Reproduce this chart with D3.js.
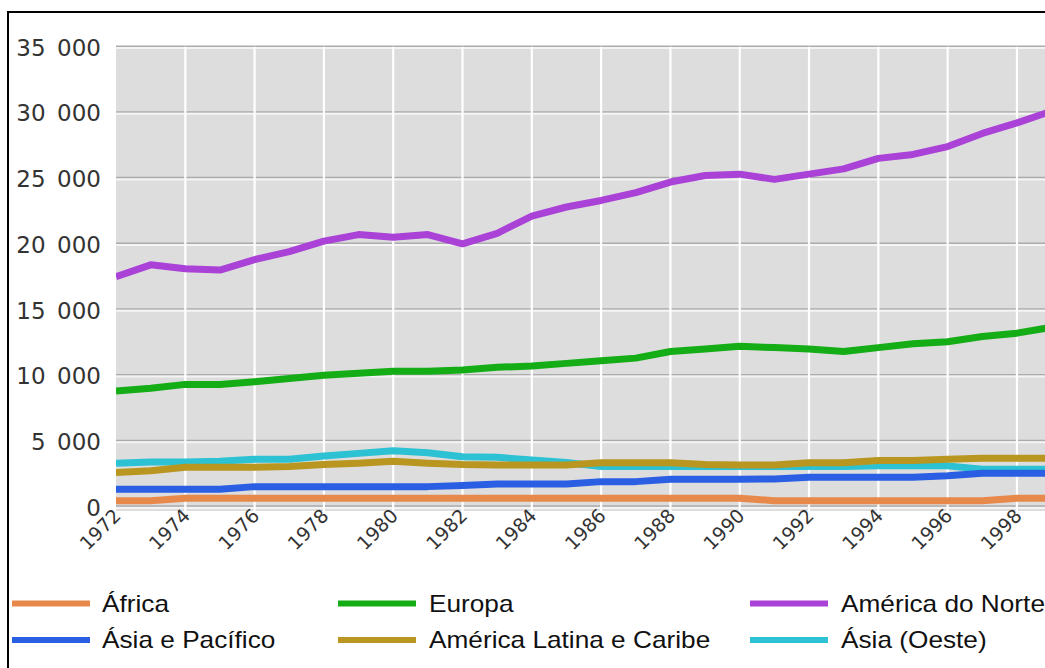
<!DOCTYPE html>
<html>
<head>
<meta charset="utf-8">
<script src="https://cdn.jsdelivr.net/npm/d3@7"></script>
<style>
  body { margin: 0; background: #fff; overflow: hidden; }
  svg { display: block; }
</style>
</head>
<body>
<svg id="chart" width="1045" height="668"></svg>
<script>
// Data, one value per year 1972-1999
const years = d3.range(1972, 2000);
const africa = [450, 450, 630, 630, 630, 630, 630, 630, 630, 630, 630, 630, 630, 630, 630, 630, 630, 630, 630, 450, 450, 450, 450, 450, 450, 450, 630, 630];
const europa = [8800, 9000, 9300, 9300, 9500, 9750, 10000, 10150, 10300, 10300, 10400, 10600, 10700, 10900, 11100, 11300, 11800, 12000, 12200, 12100, 12000, 11800, 12100, 12400, 12550, 12950, 13200, 13650];
const americaNorte = [17500, 18400, 18100, 18000, 18800, 19400, 20200, 20700, 20500, 20700, 20000, 20800, 22100, 22800, 23300, 23900, 24700, 25200, 25300, 24900, 25300, 25700, 26500, 26800, 27400, 28400, 29200, 30100];
const asiaPacifico = [1320, 1320, 1320, 1320, 1520, 1520, 1520, 1520, 1520, 1520, 1600, 1720, 1720, 1720, 1900, 1900, 2080, 2080, 2080, 2100, 2230, 2230, 2230, 2230, 2350, 2530, 2530, 2530];
const americaLatina = [2600, 2730, 3000, 3000, 3000, 3050, 3200, 3300, 3450, 3300, 3200, 3170, 3170, 3170, 3340, 3340, 3340, 3200, 3170, 3170, 3340, 3340, 3500, 3500, 3600, 3680, 3680, 3680];
const asiaOeste = [3300, 3400, 3400, 3450, 3600, 3600, 3850, 4050, 4250, 4100, 3800, 3750, 3550, 3350, 3050, 3050, 3050, 3050, 3050, 3050, 3050, 3050, 3100, 3100, 3100, 2850, 2850, 2850];

const yTicks = [0, 5000, 10000, 15000, 20000, 25000, 30000, 35000];
const xTicks = d3.range(1972, 1999, 2);

// drawing order (first = bottom)
const series = [
  { name: 'Ásia (Oeste)', values: asiaOeste, color: '#2cc2d3' },
  { name: 'África', values: africa, color: '#e8894c' },
  { name: 'Ásia e Pacífico', values: asiaPacifico, color: '#2b5fe3' },
  { name: 'América Latina e Caribe', values: americaLatina, color: '#b8961f' },
  { name: 'Europa', values: europa, color: '#14ad16' },
  { name: 'América do Norte', values: americaNorte, color: '#aa42d8' }
];

// legend layout: row by row
const legendOrder = [
  ['África', 'Europa', 'América do Norte'],
  ['Ásia e Pacífico', 'América Latina e Caribe', 'Ásia (Oeste)']
];

const svg = d3.select('#chart');
const plot = { left: 116, top: 46.7, bottom: 511 };

const x = d3.scaleLinear().domain([1972, 1999]).range([plot.left, 1051.6]);
const y = d3.scaleLinear().domain([-335, 35000]).range([plot.bottom, plot.top]);

// outer frame
svg.append('rect')
  .attr('x', 8).attr('y', 12)
  .attr('width', 1100).attr('height', 700)
  .attr('fill', 'none')
  .attr('stroke', '#000')
  .attr('stroke-width', 2);

// plot background
svg.append('rect')
  .attr('x', plot.left).attr('y', plot.top)
  .attr('width', 1045 - plot.left).attr('height', plot.bottom - plot.top)
  .attr('fill', '#dddddd');

svg.append('clipPath').attr('id', 'clip')
  .append('rect')
  .attr('x', plot.left).attr('y', plot.top - 10)
  .attr('width', 1045 - plot.left).attr('height', plot.bottom - plot.top + 10);

// horizontal grid: gray line with white line below
const hg = svg.append('g');
yTicks.forEach(v => {
  hg.append('line')
    .attr('x1', plot.left).attr('x2', 1045)
    .attr('y1', y(v) - 0.5).attr('y2', y(v) - 0.5)
    .attr('stroke', '#ababab').attr('stroke-width', 1.5);
  hg.append('line')
    .attr('x1', plot.left).attr('x2', 1045)
    .attr('y1', y(v) + 1.3).attr('y2', y(v) + 1.3)
    .attr('stroke', '#f4f4f4').attr('stroke-width', 2);
});

// vertical grid: white
svg.append('g').selectAll('line')
  .data(xTicks.filter(d => d > 1972))
  .enter().append('line')
  .attr('x1', d => x(d)).attr('x2', d => x(d))
  .attr('y1', plot.top).attr('y2', plot.bottom)
  .attr('stroke', '#ffffff').attr('stroke-width', 2.2);

// y labels
svg.append('g').selectAll('text')
  .data(yTicks)
  .enter().append('text')
  .attr('x', 101)
  .attr('y', d => y(d) + 1)
  .attr('dy', '0.35em')
  .attr('text-anchor', 'end')
  .attr('font-family', 'DejaVu Sans, Verdana, sans-serif')
  .attr('font-size', 23)
  .attr('fill', '#333')
  .text(d => d3.format(',')(d).replace(',', '\u2002'));

// x labels, rotated
svg.append('g').selectAll('text')
  .data(xTicks)
  .enter().append('text')
  .attr('transform', d => `translate(${x(d) + 6},517) rotate(-45)`)
  .attr('text-anchor', 'end')
  .attr('font-family', 'DejaVu Sans, Verdana, sans-serif')
  .attr('font-size', 19)
  .attr('fill', '#333')
  .text(d => d);

// lines
const line = d3.line()
  .x((d, i) => x(years[i]))
  .y(d => y(d));

svg.append('g').attr('clip-path', 'url(#clip)')
  .selectAll('path')
  .data(series)
  .enter().append('path')
  .attr('d', d => line(d.values))
  .attr('fill', 'none')
  .attr('stroke', d => d.color)
  .attr('stroke-width', 7)
  .attr('stroke-linejoin', 'round');

// legend
const colX = [{ sw: 12, tx: 102 }, { sw: 338, tx: 429 }, { sw: 750, tx: 841 }];
const rowY = [603.5, 640];
const legend = svg.append('g');
legendOrder.forEach((row, r) => {
  row.forEach((name, c) => {
    const s = series.find(d => d.name === name);
    legend.append('line')
      .attr('x1', colX[c].sw).attr('x2', colX[c].sw + 78)
      .attr('y1', rowY[r]).attr('y2', rowY[r])
      .attr('stroke', s.color).attr('stroke-width', 6);
    legend.append('text')
      .attr('transform', `translate(${colX[c].tx},${rowY[r] + 8}) scale(1.14,1)`)
      .attr('font-family', 'Liberation Sans, Arial, sans-serif')
      .attr('font-size', 23)
      .attr('fill', '#111')
      .text(name);
  });
});
</script>
</body>
</html>
